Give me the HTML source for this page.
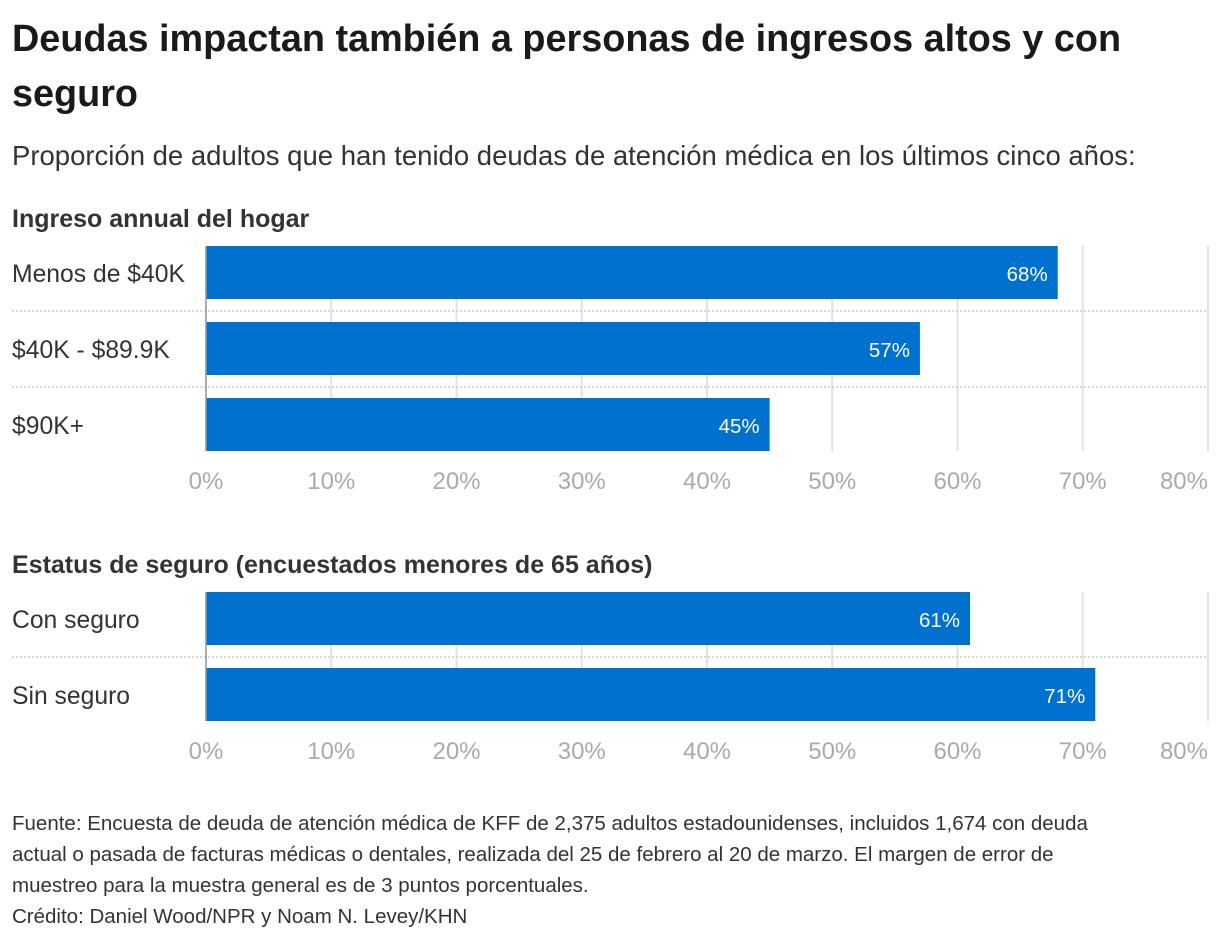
<!DOCTYPE html>
<html><head><meta charset="utf-8">
<style>
body{margin:0;background:#fff;font-family:"Liberation Sans",sans-serif;color:#222;}
#wrap{position:relative;width:1220px;height:940px;overflow:hidden;}
h1{position:absolute;left:12px;top:12px;margin:0;font-size:37.8px;line-height:55px;font-weight:bold;color:#1a1a1a;width:1200px;}
.sub{position:absolute;left:12px;top:140px;font-size:27.5px;color:#333;white-space:nowrap;}
.foot{position:absolute;left:12px;top:808px;font-size:20.5px;line-height:31px;color:#333;width:1200px;white-space:nowrap;}
svg{position:absolute;left:0;top:0;}
</style></head><body>
<div id="wrap">
<h1>Deudas impactan también a personas de ingresos altos y con seguro</h1>
<div class="sub">Proporción de adultos que han tenido deudas de atención médica en los últimos cinco años:</div>
<svg id="svg" width="1220" height="940"></svg>
<div class="foot">Fuente: Encuesta de deuda de atención médica de KFF de 2,375 adultos estadounidenses, incluidos 1,674 con deuda<br>actual o pasada de facturas médicas o dentales, realizada del 25 de febrero al 20 de marzo. El margen de error de<br>muestreo para la muestra general es de 3 puntos porcentuales.<br>Crédito: Daniel Wood/NPR y Noam N. Levey/KHN</div>
</div>
<script>
const incomeCats=["Menos de $40K","$40K - $89.9K","$90K+"];
const incomeVals=[68,57,45];
const insCats=["Con seguro","Sin seguro"];
const insVals=[61,71];
const ticks=[0,10,20,30,40,50,60,70,80];
const tickLabels=["0%","10%","20%","30%","40%","50%","60%","70%","80%"];
const NS="http://www.w3.org/2000/svg";
const svg=document.getElementById('svg');
const x0=206,x1=1208,xmax=80;
function xs(v){return x0+(x1-x0)*v/xmax;}
function mk(t,a,p){const e=document.createElementNS(NS,t);for(const k in a)e.setAttribute(k,a[k]);(p||svg).appendChild(e);return e;}
function panel(name,header,headerY,cats,vals,top){
  const g=mk('g',{});
  
  
  const h=mk('text',{x:12,y:headerY,'font-size':25,'font-weight':'bold',fill:'#333'},g);
  h.textContent=header;
  
  
  const row=76,bh=53,bottom=top+row*(cats.length-1)+bh;
  ticks.forEach((t,i)=>{
    const l=mk('line',{x1:xs(t),x2:xs(t),y1:top,y2:bottom,stroke:'#e2e2e2','stroke-width':2},g);
    
    
    const last=i===ticks.length-1;
    const tx=mk('text',{x:xs(t),y:bottom+38,'font-size':24,fill:'#aaa','text-anchor':last?'end':'middle'},g);
    tx.textContent=tickLabels[i];
    
    
  });
  cats.forEach((c,i)=>{
    const y=top+i*row;
    if(i>0){const s=mk('line',{x1:12,x2:1208,y1:y-11,y2:y-11,stroke:'#ccc','stroke-width':1.5,'stroke-dasharray':'2,2'},g);
      
      }
    const b=mk('rect',{x:x0,y:y,width:xs(vals[i])-x0,height:bh,fill:'#0071ce'},g);
    
    
    const lb=mk('text',{x:12,y:y+36,'font-size':24.7,fill:'#333'},g);
    lb.textContent=c;
    
    
    const vl=mk('text',{x:xs(vals[i])-10,y:y+35,'font-size':20.5,fill:'#fff','text-anchor':'end'},g);
    vl.textContent=vals[i]+'%';
    
    
  });
  const ax=mk('line',{x1:x0,x2:x0,y1:top,y2:bottom,stroke:'#999','stroke-width':1.5},g);
  
  
}
panel('income-chart','Ingreso annual del hogar',227,incomeCats,incomeVals,246);
panel('insurance-chart','Estatus de seguro (encuestados menores de 65 años)',573,insCats,insVals,592);
</script>
</body></html>
